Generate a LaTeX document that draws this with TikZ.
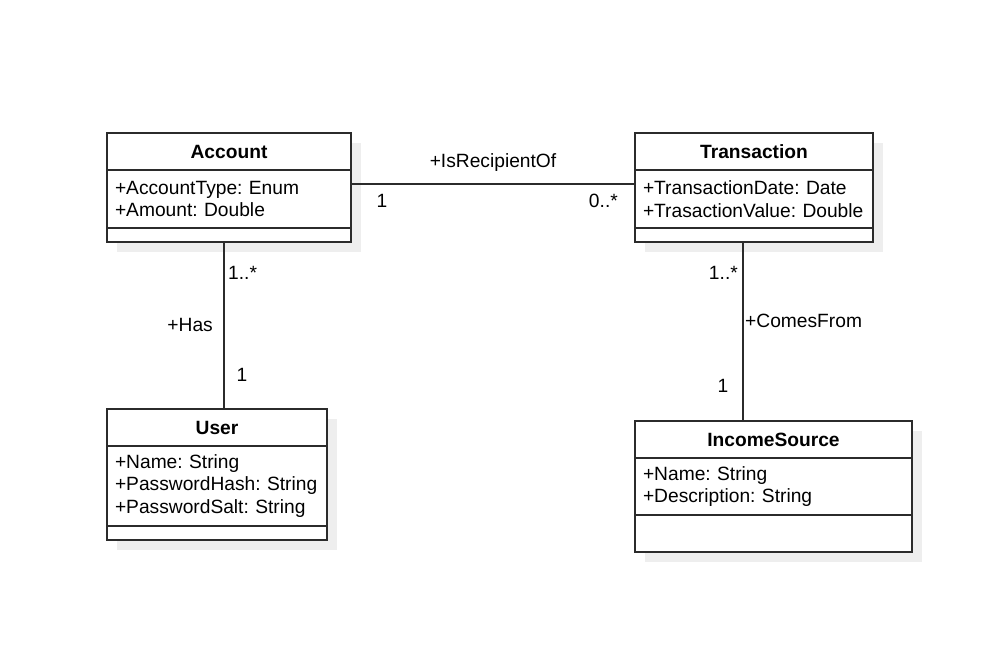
\documentclass[tikz,border=0pt]{standalone}
\usepackage{fontspec}
\setmainfont{Liberation Sans}
\usetikzlibrary{positioning,shadows}
\definecolor{umlline}{HTML}{2B2B2B}
\definecolor{umlshadow}{HTML}{EEEEEE}
\frenchspacing

\begin{document}
\begin{tikzpicture}[x=1pt,y=-1pt,
  font=\fontsize{19.2}{22.5}\selectfont,
  box/.style={draw=umlline, line width=1.6pt, fill=white, outer sep=0pt, inner sep=0pt,
    drop shadow={shadow xshift=10pt, shadow yshift=-10pt, fill=umlshadow, opacity=1}},
  classhead/.style={box, anchor=north west, minimum height=37pt,
    text height=14pt, text depth=0pt,
    font=\fontsize{19.2}{22.5}\selectfont\bfseries},
  classattr/.style={box, align=left, inner xsep=8pt, inner ysep=3pt},
  classops/.style={box},
  link/.style={draw=umlline, line width=1.6pt},
  lbl/.style={inner sep=0pt, anchor=base}]

  \useasboundingbox (0,0) rectangle (993,657);

  % account
  \node[classhead, minimum width=244pt] (acc) at (107,133) {Account};
  \node[classattr, below=0pt of acc, text width=228pt, minimum height=58pt] (accattr)
    {+AccountType: Enum\\+Amount: Double};
  \node[classops, below=0pt of accattr, minimum width=244pt, minimum height=14pt] (accops) {};

  % transaction
  \node[classhead, minimum width=238pt] (tra) at (635,133) {Transaction};
  \node[classattr, below=0pt of tra, text width=222pt, minimum height=58pt] (traattr)
    {+TransactionDate: Date\\+TrasactionValue: Double};
  \node[classops, below=0pt of traattr, minimum width=238pt, minimum height=14pt] (traops) {};

  % user
  \node[classhead, minimum width=220pt] (user) at (107,409) {User};
  \node[classattr, below=0pt of user, text width=204pt, minimum height=80pt] (userattr)
    {+Name: String\\+PasswordHash: String\\+PasswordSalt: String};
  \node[classops, below=0pt of userattr, minimum width=220pt, minimum height=14pt] (userops) {};

  % income source
  \node[classhead, minimum width=277pt] (inc) at (635,421) {IncomeSource};
  \node[classattr, below=0pt of inc, text width=261pt, minimum height=57pt] (incattr)
    {+Name: String\\+Description: String};
  \node[classops, below=0pt of incattr, minimum width=277pt, minimum height=37pt] (incops) {};

  % associations
  \draw[link] ([yshift=-14pt]accattr.north east) -- ([yshift=-14pt]traattr.north west);
  \draw[link] ([xshift=-5pt]accops.south) -- ([xshift=-5pt]accops.south |- user.north);
  \draw[link] ([xshift=-11pt]traops.south) -- ([xshift=-11pt]traops.south |- inc.north);

  % role names and multiplicities
  \node[lbl] (recname) at (493,167) {+IsRecipientOf};
  \node[lbl] (recsrc) at (382,207.5) {1};
  \node[lbl, anchor=base east] (rectgt) at (618,207.5) {0..*};

  \node[lbl, anchor=base west] (hassrc) at (228,279.5) {1..*};
  \node[lbl, anchor=base east] (hasname) at (213,331) {+Has};
  \node[lbl] (hastgt) at (242,381) {1};

  \node[lbl, anchor=base east] (comsrc) at (738,279.5) {1..*};
  \node[lbl, anchor=base west] (comname) at (745,327.5) {+ComesFrom};
  \node[lbl] (comtgt) at (723,392.5) {1};

\end{tikzpicture}
\end{document}
